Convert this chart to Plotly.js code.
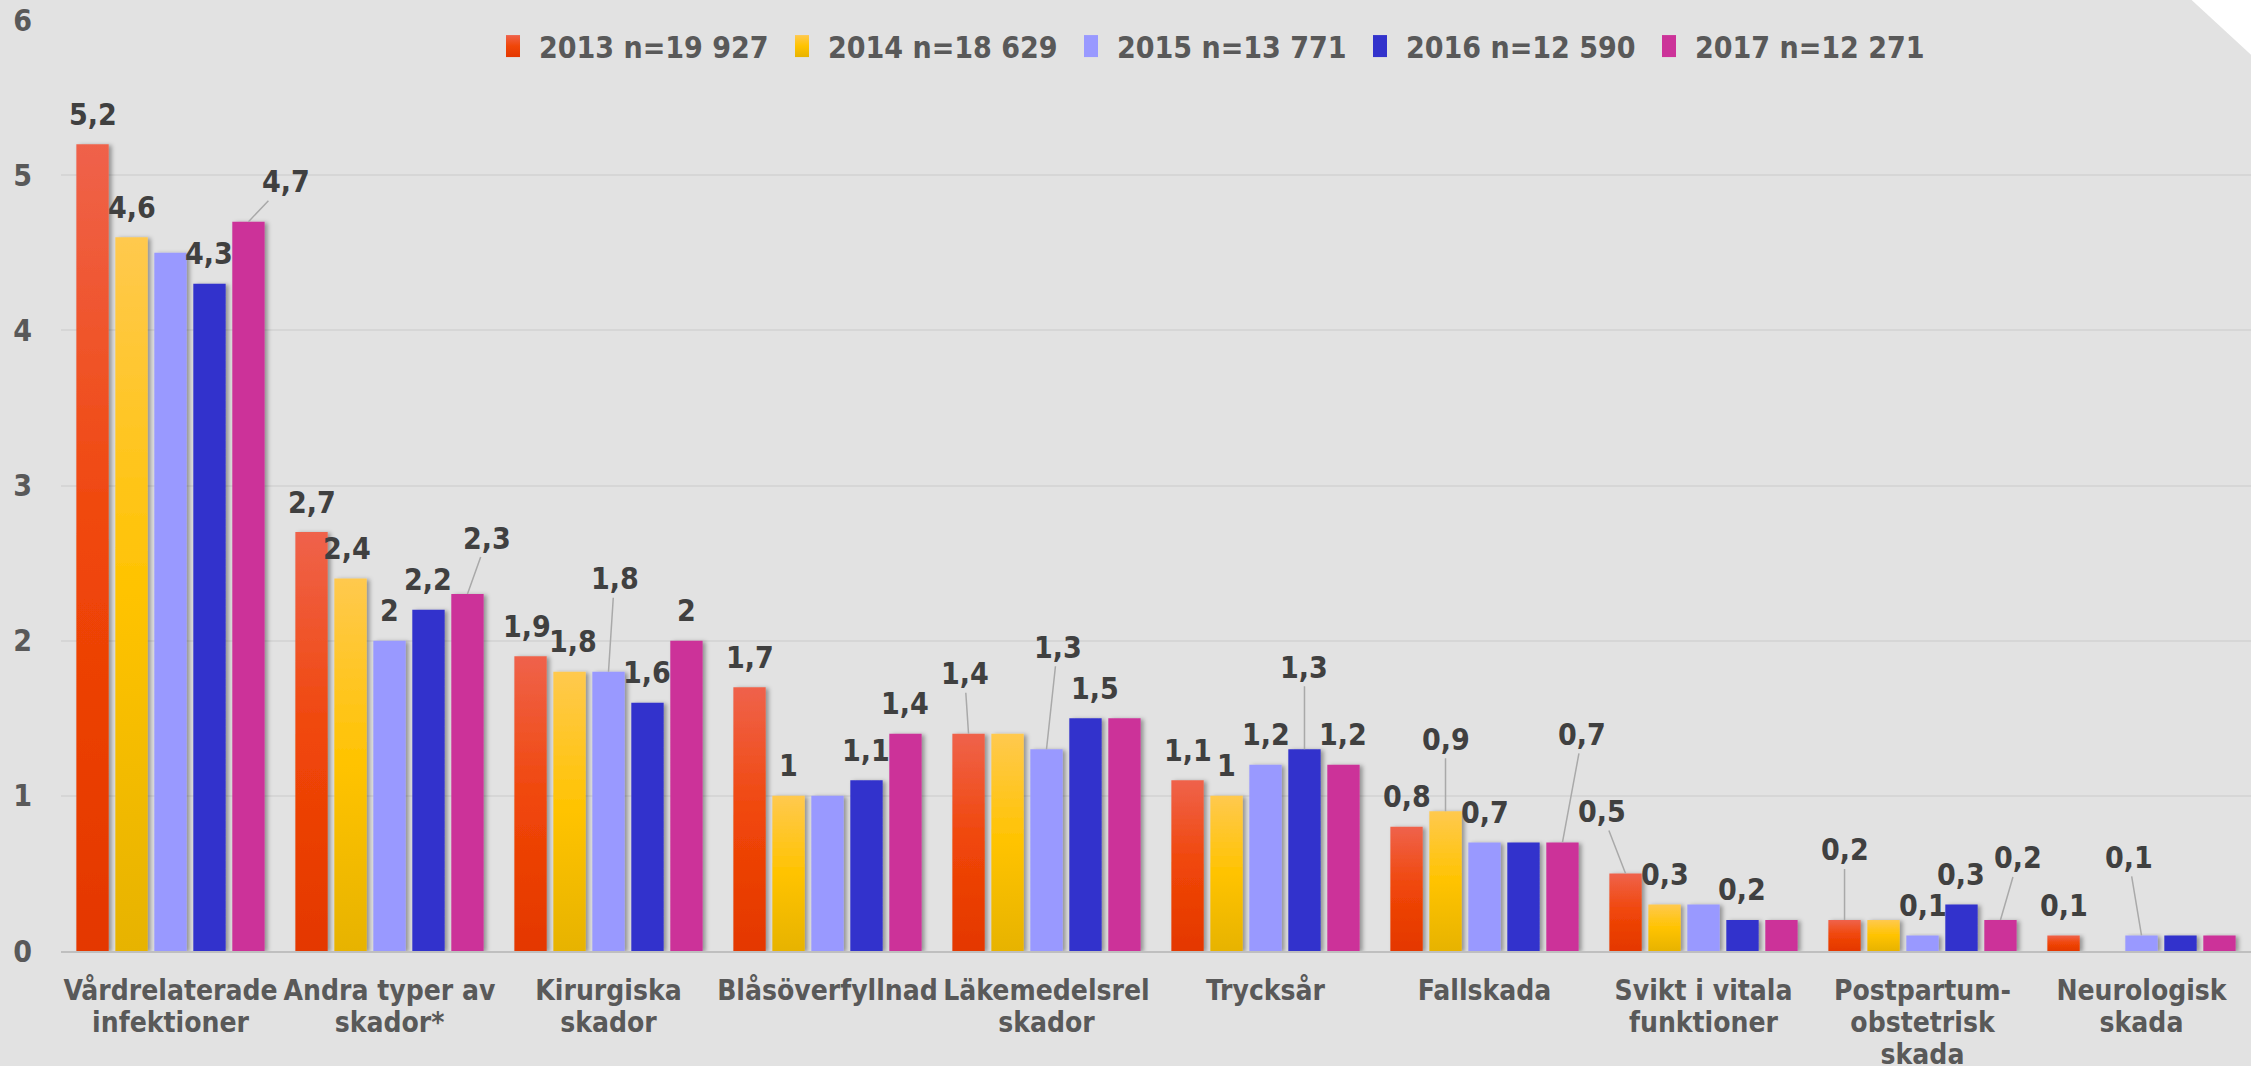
<!DOCTYPE html>
<html>
<head>
<meta charset="utf-8">
<script src="https://cdn.plot.ly/plotly-3.0.1.min.js"></script>
<style>
  html, body { margin: 0; padding: 0; background: #e2e2e2; }
  #chart { width: 2251px; height: 1066px; }
</style>
</head>
<body>
<div id="chart"></div>
<script>
// ---------- DATA ----------
const categories = [
  "Vårdrelaterade<br>infektioner",
  "Andra typer av<br>skador*",
  "Kirurgiska<br>skador",
  "Blåsöverfyllnad",
  "Läkemedelsrel<br>skador",
  "Trycksår",
  "Fallskada",
  "Svikt i vitala<br>funktioner",
  "Postpartum-<br>obstetrisk<br>skada",
  "Neurologisk<br>skada"
];
const seriesNames = ["2013 n=19 927", "2014 n=18 629", "2015 n=13 771", "2016 n=12 590", "2017 n=12 271"];
const values2013 = [5.2, 2.7, 1.9, 1.7, 1.4, 1.1, 0.8, 0.5, 0.2, 0.1];
const values2014 = [4.6, 2.4, 1.8, 1.0, 1.4, 1.0, 0.9, 0.3, 0.2, null];
const values2015 = [4.5, 2.0, 1.8, 1.0, 1.3, 1.2, 0.7, 0.3, 0.1, 0.1];
const values2016 = [4.3, 2.2, 1.6, 1.1, 1.5, 1.3, 0.7, 0.2, 0.3, 0.1];
const values2017 = [4.7, 2.3, 2.0, 1.4, 1.5, 1.2, 0.7, 0.2, 0.2, 0.1];
// which values carry a data label in the original (1 = shown)
const labelShown2013 = [1, 1, 1, 1, 1, 1, 1, 1, 1, 1];
const labelShown2014 = [1, 1, 1, 1, 0, 1, 1, 1, 0, 0];
const labelShown2015 = [0, 1, 1, 0, 1, 1, 1, 0, 1, 1];
const labelShown2016 = [1, 1, 1, 1, 1, 1, 0, 1, 1, 0];
const labelShown2017 = [1, 1, 1, 1, 0, 1, 1, 0, 1, 0];
const yTicks = [0, 1, 2, 3, 4, 5, 6];

// ---------- STYLE ----------
const allValues = [values2013, values2014, values2015, values2016, values2017];
const allShown = [labelShown2013, labelShown2014, labelShown2015, labelShown2016, labelShown2017];
const baseColors = ["#ee4a14", "#fdc21c", "#9999ff", "#3333cc", "#cc3399"];
const gradients = [
  [["0%", "#ef624b"], ["50%", "#f04608"], ["100%", "#e43700"]],
  [["0%", "#ffc94e"], ["50%", "#ffc300"], ["100%", "#e7b300"]],
  [["0%", "#9999ff"], ["100%", "#9999ff"]],
  [["0%", "#3333cc"], ["100%", "#3333cc"]],
  [["0%", "#cc3399"], ["100%", "#cc3399"]]
];
const FONT = '"Liberation Sans Narrow", "Arial Narrow", "DejaVu Sans Condensed", sans-serif';
const BARGAP = 0.11;
const slot = (1 - BARGAP) / 5;

// label offsets (pixels) for labels that are moved away from their bar, with leader lines
// key: "series-category"
const leader = {
  "4-0": [38, -40],
  "4-1": [20, -56],
  "2-2": [6, -93],
  "0-4": [-4, -60],
  "2-4": [11, -102],
  "3-5": [0, -82],
  "1-6": [0, -72],
  "4-6": [20, -108],
  "0-7": [-24, -62],
  "0-8": [0, -70],
  "4-8": [18, -62],
  "2-9": [-13, -78]
};
const nudged = { "3-4": [10, 0], "0-2": [-4, 0], "1-2": [3, 0], "1-1": [-4, 0] };

const traces = allValues.map((vals, s) => ({
  type: "bar",
  name: seriesNames[s],
  x: categories,
  y: vals,
  marker: { color: baseColors[s], line: { width: 0 } },
  hoverinfo: "skip"
}));

const fmt = v => String(v).replace(".", ",");
const annotations = [];
allValues.forEach((vals, s) => {
  vals.forEach((v, c) => {
    if (v === null || !allShown[s][c]) return;
    const key = s + "-" + c;
    const xpos = c + (s - 2) * slot;
    const base = {
      x: xpos, y: v, xref: "x", yref: "y",
      text: fmt(v),
      font: { family: FONT, size: 30, color: "#404040", weight: 700 }
    };
    if (leader[key]) {
      annotations.push(Object.assign(base, {
        showarrow: true, arrowhead: 0, arrowwidth: 1.5, arrowcolor: "#a9a9a9",
        ax: leader[key][0], ay: leader[key][1], axref: "pixel", ayref: "pixel",
        standoff: 0, startstandoff: 0
      }));
    } else {
      const n = nudged[key] || [0, 0];
      annotations.push(Object.assign(base, {
        showarrow: false, yanchor: "middle", yshift: 30 + n[1], xshift: n[0]
      }));
    }
  });
});

const layout = {
  width: 2251, height: 1066,
  paper_bgcolor: "#e2e2e2",
  plot_bgcolor: "#e2e2e2",
  margin: { l: 61, r: 0, t: 20, b: 115, pad: 0 },
  barmode: "group",
  bargap: BARGAP,
  bargroupgap: 0.17,
  font: { family: FONT, size: 30, color: "#595959", weight: 700 },
  showlegend: true,
  legend: {
    orientation: "h",
    x: 0.2, xanchor: "left",
    y: 0.972, yanchor: "middle",
    bgcolor: "rgba(0,0,0,0)",
    font: { family: FONT, size: 30, color: "#595959", weight: 700 },
    entrywidth: 244, entrywidthmode: "pixels",
    traceorder: "normal"
  },
  xaxis: {
    type: "category",
    tickfont: { family: FONT, size: 28, color: "#595959", weight: 700 },
    showline: true, linecolor: "#bfbfbf", linewidth: 2,
    ticks: "", showgrid: false, zeroline: false,
    ticklabelstandoff: 13,
    fixedrange: true
  },
  yaxis: {
    range: [0, 6],
    tickvals: yTicks,
    ticktext: yTicks.map(String),
    tickfont: { family: FONT, size: 30, color: "#595959", weight: 700 },
    showgrid: true, gridcolor: "#d6d6d6", gridwidth: 2,
    zeroline: false, showline: false, ticks: "",
    ticklabelstandoff: 28,
    fixedrange: true
  },
  shapes: [{
    type: "path", xref: "paper", yref: "paper", layer: "below",
    path: "M " + ((2183 - 61) / 2190) + " 1.03 L 1.01 1.03 L 1.01 " + (1 - (75 - 20) / 931) + " Z",
    fillcolor: "#ffffff", line: { width: 0 }
  }],
  annotations: annotations
};

Plotly.newPlot("chart", traces, layout, { displayModeBar: false, staticPlot: true }).then(gd => {
  const svg = gd.querySelector("svg.main-svg");
  const NS = "http://www.w3.org/2000/svg";
  let defs = svg.querySelector("defs");
  if (!defs) { defs = document.createElementNS(NS, "defs"); svg.insertBefore(defs, svg.firstChild); }
  gradients.forEach((stops, s) => {
    const lg = document.createElementNS(NS, "linearGradient");
    lg.setAttribute("id", "bargrad" + s);
    lg.setAttribute("x1", "0"); lg.setAttribute("y1", "0");
    lg.setAttribute("x2", "0"); lg.setAttribute("y2", "1");
    stops.forEach(st => {
      const stop = document.createElementNS(NS, "stop");
      stop.setAttribute("offset", st[0]);
      stop.setAttribute("stop-color", st[1]);
      lg.appendChild(stop);
    });
    defs.appendChild(lg);
  });
  const filt = document.createElementNS(NS, "filter");
  filt.setAttribute("id", "barshadow");
  filt.setAttribute("x", "-30%"); filt.setAttribute("y", "-10%");
  filt.setAttribute("width", "170%"); filt.setAttribute("height", "130%");
  const ds = document.createElementNS(NS, "feDropShadow");
  ds.setAttribute("dx", "3"); ds.setAttribute("dy", "1");
  ds.setAttribute("stdDeviation", "2");
  ds.setAttribute("flood-color", "#000"); ds.setAttribute("flood-opacity", "0.35");
  filt.appendChild(ds);
  defs.appendChild(filt);

  const barTraces = gd.querySelectorAll(".barlayer .trace.bars");
  barTraces.forEach((t, s) => {
    t.querySelectorAll("path").forEach(p => {
      p.style.fill = "url(#bargrad" + s + ")";
      p.setAttribute("filter", "url(#barshadow)");
    });
  });
  const legendItems = gd.querySelectorAll(".legend .traces");
  legendItems.forEach((it, s) => {
    it.querySelectorAll(".legendpoints path").forEach(p => {
      p.style.fill = "url(#bargrad" + s + ")";
      p.setAttribute("d", "M7,11H-7V-11H7Z");
      p.setAttribute("transform", "translate(14,0)");
    });
  });
  // tighter line spacing for multi-line category labels (scale each line offset)
  gd.querySelectorAll(".xtick text tspan.line").forEach(ts => {
    const dy = parseFloat(ts.getAttribute("dy"));
    if (dy) ts.setAttribute("dy", (dy * 1.15 / 1.3).toFixed(3) + "em");
  });
});
</script>
</body>
</html>
